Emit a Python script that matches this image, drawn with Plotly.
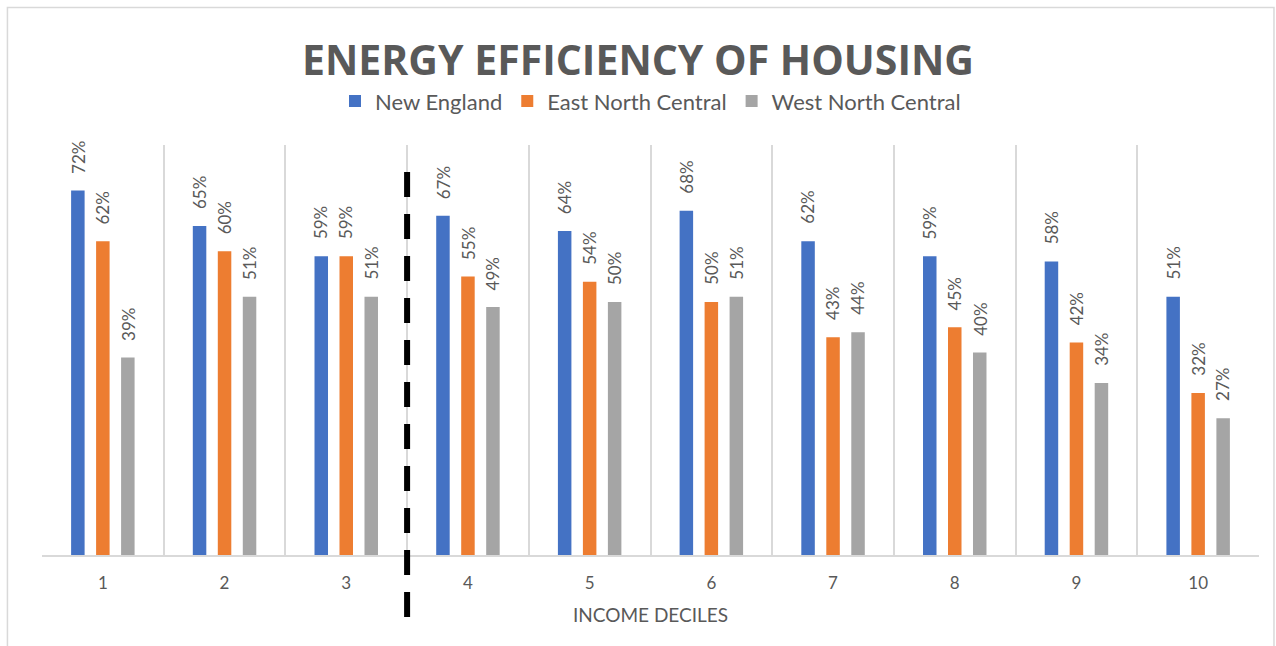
import plotly.graph_objects as go

deciles = ["1", "2", "3", "4", "5", "6", "7", "8", "9", "10"]
series_names = ["New England", "East North Central", "West North Central"]
new_england = [0.72, 0.65, 0.59, 0.67, 0.64, 0.68, 0.62, 0.59, 0.58, 0.51]
east_north_central = [0.62, 0.60, 0.59, 0.55, 0.54, 0.50, 0.43, 0.45, 0.42, 0.32]
west_north_central = [0.39, 0.51, 0.51, 0.49, 0.50, 0.51, 0.44, 0.40, 0.34, 0.27]
colors = ["#4472C4", "#ED7D31", "#A5A5A5"]
label_offsets = [-25, 0, 25]
boundary_after = 2.5  # divider between decile 3 and 4

TEXT = "#595959"
GRID = "#D9D9D9"
FONT = "Lato, Open Sans, sans-serif"

fig = go.Figure()
all_series = [new_england, east_north_central, west_north_central]
for name, vals, col in zip(series_names, all_series, colors):
    fig.add_trace(go.Bar(x=deciles, y=vals, name=name, marker=dict(color=col, line=dict(width=0))))

annotations = []
for vals, off in zip(all_series, label_offsets):
    for i, v in enumerate(vals):
        annotations.append(dict(
            x=i, y=v, xref="x", yref="y", text=f"{round(v*100)}%", showarrow=False,
            textangle=-90, yanchor="bottom", xanchor="center", xshift=off, yshift=15,
            font=dict(family=FONT, size=17, color=TEXT)))

fig.update_layout(
    width=1276, height=646,
    margin=dict(l=42, r=17, t=145, b=91),
    paper_bgcolor="white", plot_bgcolor="white",
    barmode="group", bargap=0.384, bargroupgap=0.46,
    title=dict(text="<b>ENERGY EFFICIENCY OF HOUSING</b>", x=0.5, xref="container", xanchor="center",
               y=1 - 61/646, yref="container", yanchor="middle",
               font=dict(family="Open Sans, sans-serif", size=41, color=TEXT)),
    legend=dict(orientation="h", x=0.5, xanchor="center", y=1.107, yanchor="middle",
                font=dict(family=FONT, size=22, color=TEXT),
                bgcolor="rgba(0,0,0,0)"),
    xaxis=dict(type="category", range=[-0.5, 9.5], tickson="boundaries", showgrid=True,
               gridcolor=GRID, gridwidth=1.5,
               ticks="", showline=True, linecolor=GRID, linewidth=1.5,
               tickfont=dict(family=FONT, size=17, color=TEXT),
               ticklabelstandoff=12,
               title=dict(text="INCOME DECILES", standoff=17,
                          font=dict(family=FONT, size=19, color=TEXT))),
    yaxis=dict(range=[0, 0.81], showgrid=False, showticklabels=False, zeroline=False, ticks=""),
    annotations=annotations,
    showlegend=True,
)

fig.add_shape(type="line", xref="x", yref="paper", x0=boundary_after, x1=boundary_after,
              y0=0.934, y1=-0.151, line=dict(color="black", width=6, dash="25px,17px"))
fig.add_shape(type="rect", xref="paper", yref="paper", x0=-0.0284, x1=1.0123, y0=-0.26, y1=1.3354,
              line=dict(color=GRID, width=1.5), fillcolor="rgba(0,0,0,0)", layer="below")

fig.write_html("out.html", config={"displayModeBar": False},
               post_script="document.body.style.margin='0';document.body.style.overflow='hidden';")
